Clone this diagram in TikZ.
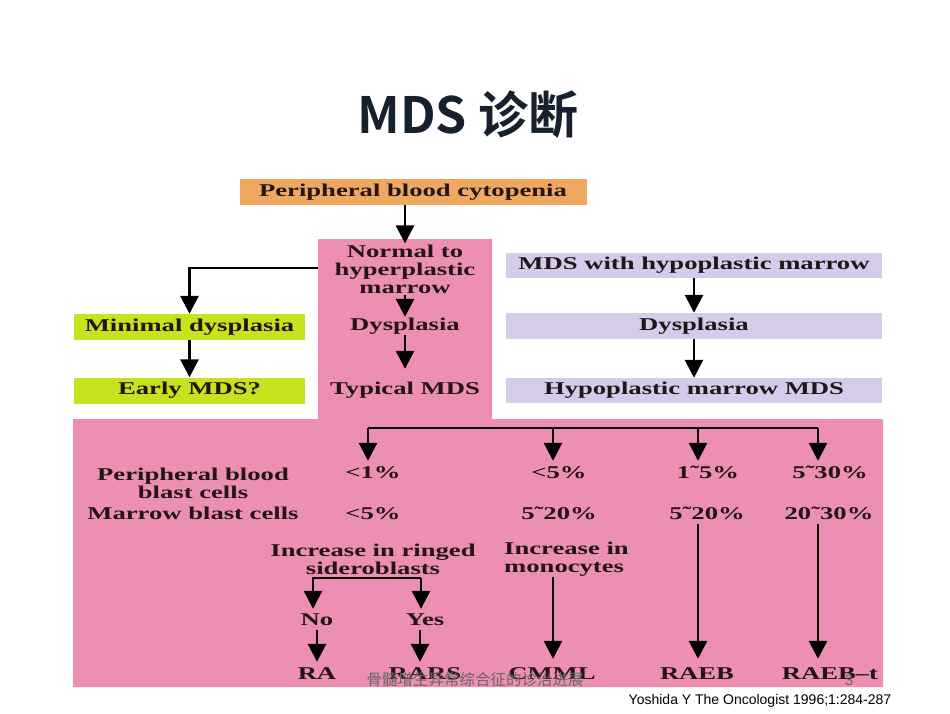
\documentclass[tikz,border=0pt]{standalone}
\usepackage{fontspec}
\usetikzlibrary{arrows.meta,calc}
\newfontfamily\dg{Liberation Serif}[FakeStretch=1.48]
\newfontfamily\cjk{Noto Sans CJK SC}
\newfontfamily\cjkb{Noto Sans CJK SC Bold}
\newfontfamily\refsans{Liberation Sans}
\definecolor{pinkC}{HTML}{EC8FB3}
\definecolor{orangeC}{HTML}{F0A860}
\definecolor{greenC}{HTML}{C8E21E}
\definecolor{lavC}{HTML}{D5CBEA}
\definecolor{ink}{HTML}{231515}
\definecolor{titleC}{HTML}{17202E}
\tikzset{
  txt/.style={font=\dg\bfseries\fontsize{18}{18}\selectfont, text=ink, inner sep=1pt, align=center},
  one/.style={txt, text height=12pt, text depth=4pt},
  box/.style={one, inner sep=0pt, minimum height=26pt},
  conn/.style={line width=2.8pt, draw=black},
  arr/.style={conn, -{Triangle[width=18pt,length=18pt]}},
}
\begin{document}
\begin{tikzpicture}[x=1pt,y=-1pt]
\useasboundingbox (0,0) rectangle (950,713);
\fill[white] (0,0) rectangle (950,713);
% title
\node[font=\cjkb\fontsize{50}{54}\selectfont, text=titleC] (title) at (468,115) {MDS 诊断};
% pink background shape
\fill[pinkC] (318,239) -- (492,239) -- (492,419) -- (883,419) -- (883,687) -- (73,687) -- (73,419) -- (318,419) -- cycle;
% top box
\node[box, fill=orangeC, minimum width=347pt] (pbc) at (413,192) {Peripheral blood cytopenia};
% pink column
\node[txt] (normal) at (405,269) {Normal to\\hyperplastic\\marrow};
\node[one] (dys1) at (405,326) {Dysplasia};
\node[one] (typ) at (405,390) {Typical MDS};
\coordinate (colleft) at (318,268);
% green boxes
\node[box, fill=greenC, minimum width=231pt] (mindys) at (189.5,327) {Minimal dysplasia};
\node[box, fill=greenC, minimum width=231pt] (early) at (189.5,390.5) {Early MDS?};
% lavender boxes
\node[box, fill=lavC, minimum width=376pt, minimum height=25pt] (hyp1) at (694,265.5) {MDS with hypoplastic marrow};
\node[box, fill=lavC, minimum width=376pt] (hyp2) at (694,326) {Dysplasia};
\node[box, fill=lavC, minimum width=376pt, minimum height=25pt] (hyp3) at (694,390.5) {Hypoplastic marrow MDS};
% lower region labels
\node[txt] (pbbc) at (193,483) {Peripheral blood\\blast cells};
\node[one] (mbc) at (193,515) {Marrow blast cells};
\node[one] (p1) at (373,474) {<1\%};
\node[one] (p2) at (559,474) {<5\%};
\node[one] (p3) at (708,474) {1˜5\%};
\node[one] (p4) at (830,474) {5˜30\%};
\node[one] (m1) at (373,515) {<5\%};
\node[one] (m2) at (559,515) {5˜20\%};
\node[one] (m3) at (707,515) {5˜20\%};
\node[one] (m4) at (829,515) {20˜30\%};
\node[txt] (ringed) at (373,559) {Increase in ringed\\sideroblasts};
\node[txt, align=left, anchor=west] (mono) at (503,559) {Increase in\\monocytes};
\node[one] (no) at (317,621) {No};
\node[one] (yes) at (425,621) {Yes};
\node[one] (ra) at (317,675) {RA};
\node[one] (rars) at (425,675) {RARS};
\node[one] (cmml) at (552,675) {CMML};
\node[one] (raeb) at (697,675) {RAEB};
\node[one] (raebt) at (830,675) {RAEB–t};
% coordinates
\coordinate (b1) at (368,428);
\coordinate (b2) at (553,428);
\coordinate (b3) at (698,428);
\coordinate (b4) at (818,428);
\coordinate (s1) at (313,578);
\coordinate (s2) at (421,578);
% connectors upper
\draw[arr] (pbc.south -| normal.north) -- (normal.north);
\draw[arr] (normal.south) -- (dys1.north);
\draw[arr, shorten >=12pt] (dys1.south) -- (typ.north);
\draw[arr] (colleft) -| (mindys.north);
\draw[arr] (mindys.south) -- (early.north);
\draw[arr] (hyp1.south) -- (hyp2.north);
\draw[arr] (hyp2.south) -- (hyp3.north);
% connectors lower
\draw[conn] (b1) -- (b4);
\draw[arr, shorten >=4pt] (b1) -- (b1 |- p1.north);
\draw[arr, shorten >=4pt] (b2) -- (b2 |- p2.north);
\draw[arr, shorten >=4pt] (b3) -- (b3 |- p3.north);
\draw[arr, shorten >=4pt] (b4) -- (b4 |- p4.north);
\draw[arr, shorten >=3pt] (s2) -- (s1) -- (s1 |- no.north);
\draw[arr, shorten >=3pt] (s2) -- (s2 |- yes.north);
\draw[arr, shorten >=4pt] (no.south) -- (ra.north);
\draw[arr, shorten >=4pt] ([xshift=-5pt]yes.south) -- ([xshift=-5pt]rars.north);
\draw[arr, shorten >=7pt] (b2 |- mono.south) -- (b2 |- cmml.north);
\draw[arr, shorten >=7pt] (b3 |- m3.south) -- (b3 |- raeb.north);
\draw[arr, shorten >=7pt] (b4 |- m4.south) -- (b4 |- raebt.north);
% footer
\node[font=\cjk\fontsize{15.5}{16}\selectfont, text=black!60] (foot) at (475,680) {骨髓增生异常综合征的诊治进展};
\node[font=\refsans\fontsize{15}{16}\selectfont, text=black!60] (pg) at (849,680) {3};
\node[font=\refsans\fontsize{14}{16}\selectfont, text=black] (cite) at (760,701) {Yoshida Y The Oncologist 1996;1:284-287};
\end{tikzpicture}
\end{document}
